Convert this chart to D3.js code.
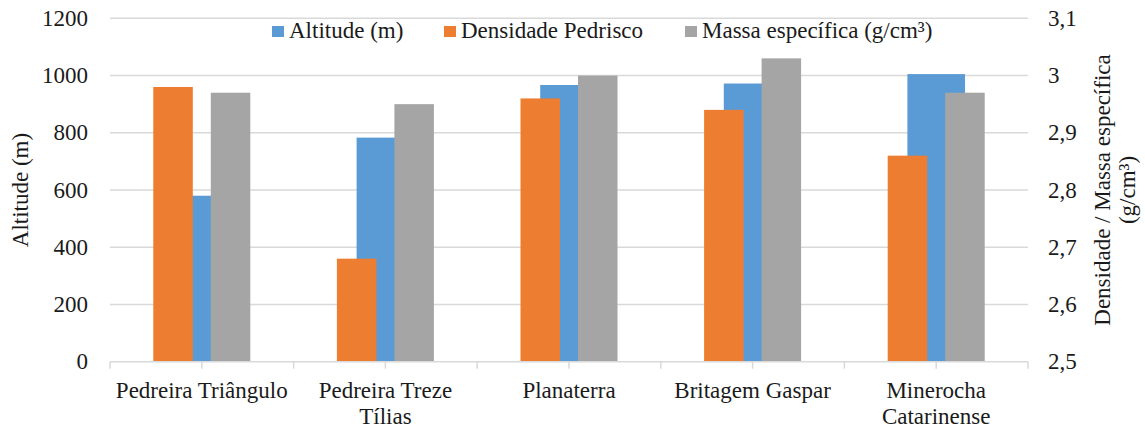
<!DOCTYPE html>
<html>
<head>
<meta charset="utf-8">
<script src="https://cdn.jsdelivr.net/npm/d3@7"></script>
<style>
  html, body { margin: 0; padding: 0; background: #fff; }
  svg { display: block; }
</style>
</head>
<body>
<svg id="chart" width="1145" height="429" font-family="'Liberation Serif', 'Times New Roman', serif"></svg>
<script>
// Pedreiras: altitude (eixo principal) e densidade / massa específica (eixo secundário)
const categories = [
  ["Pedreira Triângulo"],
  ["Pedreira Treze", "Tílias"],
  ["Planaterra"],
  ["Britagem Gaspar"],
  ["Minerocha", "Catarinense"]
];
const altitude = [580, 783, 967, 972, 1005];
const densidadePedrisco = [2.98, 2.68, 2.96, 2.94, 2.86];
const massaEspecifica = [2.97, 2.95, 3.00, 3.03, 2.97];

const leftTicks = [0, 200, 400, 600, 800, 1000, 1200];
const rightTicks = [2.5, 2.6, 2.7, 2.8, 2.9, 3.0, 3.1];

const seriesNames = ["Altitude (m)", "Densidade Pedrisco", "Massa específica (g/cm³)"];
const colors = ["#5b9bd5", "#ed7d31", "#a5a5a5"];

const svg = d3.select("#chart");
const plot = { left: 110, right: 1028, top: 18.3, bottom: 361.7 };
const fontSize = 23;
const textColor = "#1a1a1a";

const x = d3.scaleBand()
  .domain(categories.map((d, i) => i))
  .range([plot.left, plot.right])
  .padding(0);

const yLeft = d3.scaleLinear().domain([0, 1200]).range([plot.bottom, plot.top]);
const yRight = d3.scaleLinear().domain([2.5, 3.1]).range([plot.bottom, plot.top]);

// secondary-axis series share a two-slot cluster inside each category
const sub = d3.scaleBand()
  .domain(["dens", "massa"])
  .range([0, x.bandwidth()])
  .paddingInner(0.313)
  .paddingOuter(0.753);
const primaryWidth = x.bandwidth() * 0.3137;

// gridlines
svg.append("g")
  .selectAll("line")
  .data(leftTicks.slice(1))
  .join("line")
  .attr("x1", plot.left).attr("x2", plot.right)
  .attr("y1", d => yLeft(d)).attr("y2", d => yLeft(d))
  .attr("stroke", "#d9d9d9").attr("stroke-width", 1.5);

// primary series (drawn first, sits behind the secondary bars)
svg.append("g")
  .selectAll("rect")
  .data(altitude)
  .join("rect")
  .attr("x", (d, i) => x(i) + (x.bandwidth() - primaryWidth) / 2)
  .attr("width", primaryWidth)
  .attr("y", d => yLeft(d))
  .attr("height", d => yLeft(0) - yLeft(d))
  .attr("fill", colors[0]);

// secondary series
svg.append("g")
  .selectAll("rect")
  .data(densidadePedrisco)
  .join("rect")
  .attr("x", (d, i) => x(i) + sub("dens"))
  .attr("width", sub.bandwidth())
  .attr("y", d => yRight(d))
  .attr("height", d => yRight(2.5) - yRight(d))
  .attr("fill", colors[1]);

svg.append("g")
  .selectAll("rect")
  .data(massaEspecifica)
  .join("rect")
  .attr("x", (d, i) => x(i) + sub("massa"))
  .attr("width", sub.bandwidth())
  .attr("y", d => yRight(d))
  .attr("height", d => yRight(2.5) - yRight(d))
  .attr("fill", colors[2]);

// category axis: baseline plus ticks at boundaries and centres
const axisG = svg.append("g");
axisG.append("line")
  .attr("x1", plot.left).attr("x2", plot.right)
  .attr("y1", plot.bottom).attr("y2", plot.bottom)
  .attr("stroke", "#d9d9d9").attr("stroke-width", 1.5);
const tickXs = [];
categories.forEach((c, i) => { tickXs.push(x(i)); tickXs.push(x(i) + x.bandwidth() / 2); });
tickXs.push(plot.right);
axisG.selectAll("line.tick")
  .data(tickXs)
  .join("line")
  .attr("class", "tick")
  .attr("x1", d => d).attr("x2", d => d)
  .attr("y1", plot.bottom).attr("y2", plot.bottom + 7)
  .attr("stroke", "#d9d9d9").attr("stroke-width", 1.5);

axisG.selectAll("text.cat")
  .data(categories)
  .join("text")
  .attr("class", "cat")
  .attr("text-anchor", "middle")
  .attr("font-size", fontSize)
  .attr("fill", textColor)
  .each(function (lines, i) {
    const t = d3.select(this);
    lines.forEach((ln, j) => {
      t.append("tspan")
        .attr("x", x(i) + x.bandwidth() / 2)
        .attr("y", 398 + j * 26)
        .text(ln);
    });
  });

// left value axis labels
svg.append("g")
  .selectAll("text")
  .data(leftTicks)
  .join("text")
  .attr("x", 88)
  .attr("y", d => yLeft(d))
  .attr("dy", "0.33em")
  .attr("text-anchor", "end")
  .attr("font-size", fontSize)
  .attr("fill", textColor)
  .text(d => d);

// right value axis labels
const fmtRight = d => d3.format(".1~f")(d).replace(".", ",");
svg.append("g")
  .selectAll("text")
  .data(rightTicks)
  .join("text")
  .attr("x", 1048)
  .attr("y", d => yRight(d))
  .attr("dy", "0.33em")
  .attr("text-anchor", "start")
  .attr("font-size", fontSize)
  .attr("fill", textColor)
  .text(fmtRight);

// axis titles
const midY = (plot.top + plot.bottom) / 2;
svg.append("text")
  .attr("transform", `translate(28,${midY}) rotate(-90)`)
  .attr("text-anchor", "middle")
  .attr("font-size", fontSize)
  .attr("fill", textColor)
  .text("Altitude (m)");

svg.append("text")
  .attr("transform", `translate(1110,${midY}) rotate(-90)`)
  .attr("text-anchor", "middle")
  .attr("font-size", fontSize)
  .attr("fill", textColor)
  .text("Densidade / Massa específica");
svg.append("text")
  .attr("transform", `translate(1135,${midY}) rotate(-90)`)
  .attr("text-anchor", "middle")
  .attr("font-size", fontSize)
  .attr("fill", textColor)
  .text("(g/cm³)");

// legend
const legendItems = [
  { name: seriesNames[0], color: colors[0], x: 272 },
  { name: seriesNames[1], color: colors[1], x: 444 },
  { name: seriesNames[2], color: colors[2], x: 685 }
];
const lg = svg.append("g");
legendItems.forEach(it => {
  lg.append("rect")
    .attr("x", it.x).attr("y", 26)
    .attr("width", 12).attr("height", 11)
    .attr("fill", it.color);
  lg.append("text")
    .attr("x", it.x + 17).attr("y", 38)
    .attr("font-size", fontSize)
    .attr("fill", textColor)
    .text(it.name);
});
</script>
</body>
</html>
